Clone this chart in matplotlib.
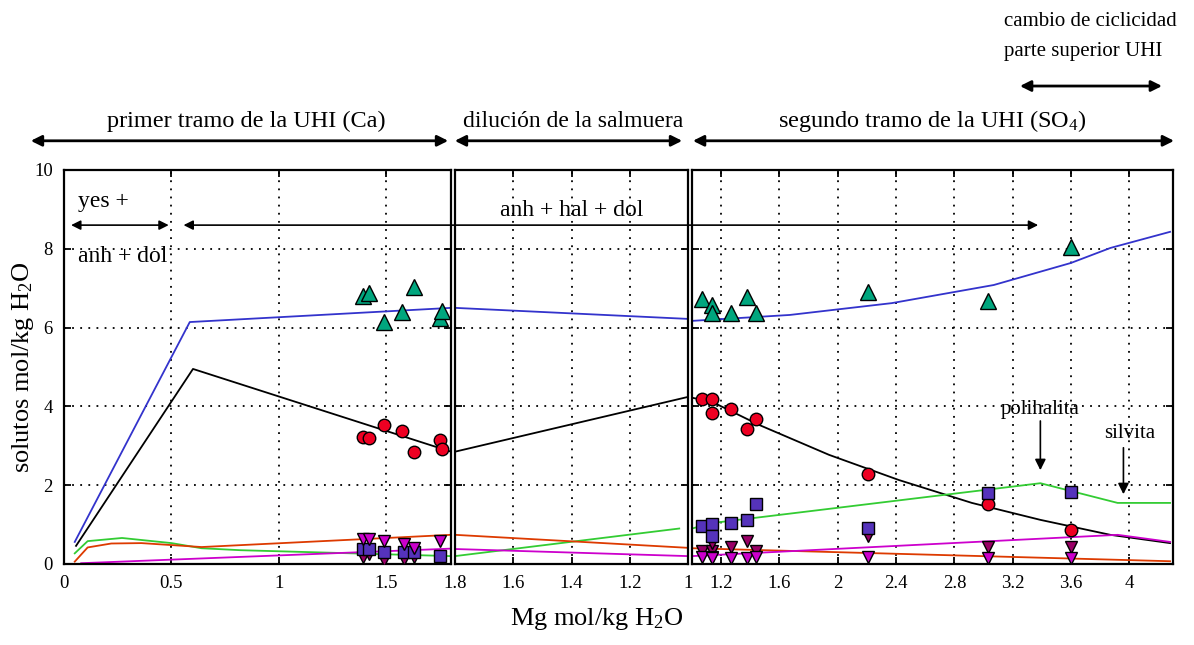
import matplotlib
matplotlib.use('Agg')
from matplotlib import pyplot as plt
from matplotlib.patches import ConnectionPatch

plt.rcParams['font.family'] = ['Liberation Serif', 'DejaVu Serif']
plt.rcParams['mathtext.default'] = 'regular'

# ---- modelled brine composition (lines) ----
# tramo 1: Mg creciente
p1_blue_x = [0.05, 0.585, 1.8]
p1_blue_y = [0.56, 6.14, 6.5]
p1_black_x = [0.056, 0.6, 1.8]
p1_black_y = [0.46, 4.95, 2.85]
p1_green_x = [0.05, 0.11, 0.27, 0.5, 0.64, 0.82, 1.8]
p1_green_y = [0.27, 0.58, 0.66, 0.53, 0.4, 0.35, 0.2]
p1_orange_x = [0.05, 0.11, 0.22, 0.36, 0.64, 1.8]
p1_orange_y = [0.06, 0.42, 0.52, 0.53, 0.43, 0.74]
p1_magenta_x = [0.08, 1.8]
p1_magenta_y = [0.02, 0.39]

# dilucion: Mg decreciente
p2_x = [1.8, 1.0]
p2_blue_y = [6.5, 6.22]
p2_black_y = [2.85, 4.24]
p2_green_x = [1.8, 1.03]
p2_green_y = [0.2, 0.9]
p2_orange_y = [0.74, 0.41]
p2_magenta_y = [0.38, 0.2]

# tramo 2
p3_blue_x = [1.0, 1.67, 2.37, 3.07, 3.6, 3.87, 4.28]
p3_blue_y = [6.17, 6.32, 6.62, 7.08, 7.64, 8.02, 8.43]
p3_black_x = [1.0, 1.14, 1.46, 1.94, 2.42, 2.92, 3.39, 3.87, 4.28]
p3_black_y = [4.22, 4.11, 3.53, 2.77, 2.13, 1.55, 1.12, 0.74, 0.53]
p3_green_x = [1.0, 1.14, 3.39, 3.92, 4.28]
p3_green_y = [0.9, 1.04, 2.05, 1.55, 1.55]
p3_orange_x = [1.0, 4.28]
p3_orange_y = [0.4, 0.07]
p3_magenta_x = [1.0, 3.92, 4.28]
p3_magenta_y = [0.2, 0.74, 0.56]

# ---- muestras (points) ----
s1_x = [1.39, 1.42, 1.49, 1.57, 1.63, 1.75, 1.76]
s1_tri = [6.8, 6.88, 6.14, 6.4, 7.03, 6.24, 6.42]
s1_circ = [3.22, 3.2, 3.53, 3.38, 2.84, 3.15, 2.92]
s1b_x = [1.39, 1.42, 1.49, 1.58, 1.63, 1.75]
s1b_sq = [0.37, 0.37, 0.30, 0.30, 0.30, 0.20]
s1b_dark = [0.17, 0.25, 0.10, 0.12, 0.17, 0.17]
s1b_mag = [0.64, 0.64, 0.59, 0.50, 0.41, 0.59]

s3_x = [1.07, 1.14, 1.14, 1.27, 1.38, 1.44, 2.21, 3.03, 3.6]
s3_tri = [6.73, 6.57, 6.37, 6.37, 6.78, 6.37, 6.9, 6.68, 8.05]
s3_circ = [4.19, 4.19, 3.84, 3.93, 3.43, 3.68, 2.28, 1.52, 0.86]
s3_sq = [0.97, 1.01, 0.71, 1.04, 1.12, 1.52, 0.92, 1.8, 1.83]
s3_dark = [0.33, 0.33, 0.53, 0.43, 0.58, 0.33, 0.71, 0.43, 0.43]
s3_mag = [0.17, 0.17, 0.15, 0.15, 0.15, 0.17, 0.17, 0.15, 0.15]

p1_ticks = [0, 0.5, 1, 1.5]
p2_ticks = [1.8, 1.6, 1.4, 1.2, 1.0]
p3_ticks = [1.2, 1.6, 2, 2.4, 2.8, 3.2, 3.6, 4]
p1_tick_labels = ['0', '0.5', '1', '1.5']
p2_tick_labels = ['1.8', '1.6', '1.4', '1.2', '1']
p3_tick_labels = ['1.2', '1.6', '2', '2.4', '2.8', '3.2', '3.6', '4']

BLUE = '#3333cc'
GREEN = '#33cc33'
ORANGE = '#dd3a00'
MAGENTA = '#cc00cc'
TEAL = '#00a67e'
RED = '#ee0022'
PURPLE = '#5533bb'
DARKMAG = '#990066'

fig = plt.figure(figsize=(11.94, 6.45), dpi=100)
bottom, height = 0.1256, 0.6109
ax1 = fig.add_axes([0.0536, bottom, 0.3241, height])
ax2 = fig.add_axes([0.3811, bottom, 0.1951, height])
ax3 = fig.add_axes([0.5796, bottom, 0.4028, height])

lkw = dict(lw=1.3, zorder=2)


def draw_points(ax, x, tri, circ, sq, dark, mag, xb=None):
	if xb is None:
		xb = x
	mk = dict(ls='none', mec='black', mew=1.0, zorder=4)
	ax.plot(x, tri, marker='^', ms=11, mfc=TEAL, **mk)
	ax.plot(x, circ, marker='o', ms=9, mfc=RED, **mk)
	ax.plot(xb, dark, marker='v', ms=9, mfc=DARKMAG, **mk)
	ax.plot(xb, sq, marker='s', ms=8, mfc=PURPLE, **mk)
	ax.plot(xb, mag, marker='v', ms=9, mfc=MAGENTA, **mk)


# panel 1
ax1.plot(p1_blue_x, p1_blue_y, color=BLUE, **lkw)
ax1.plot(p1_black_x, p1_black_y, color='black', **lkw)
ax1.plot(p1_green_x, p1_green_y, color=GREEN, **lkw)
ax1.plot(p1_orange_x, p1_orange_y, color=ORANGE, **lkw)
ax1.plot(p1_magenta_x, p1_magenta_y, color=MAGENTA, **lkw)
draw_points(ax1, s1_x, s1_tri, s1_circ, s1b_sq, s1b_dark, s1b_mag, xb=s1b_x)

# panel 2
ax2.plot(p2_x, p2_blue_y, color=BLUE, **lkw)
ax2.plot(p2_x, p2_black_y, color='black', **lkw)
ax2.plot(p2_green_x, p2_green_y, color=GREEN, **lkw)
ax2.plot(p2_x, p2_orange_y, color=ORANGE, **lkw)
ax2.plot(p2_x, p2_magenta_y, color=MAGENTA, **lkw)

# panel 3
ax3.plot(p3_blue_x, p3_blue_y, color=BLUE, **lkw)
ax3.plot(p3_black_x, p3_black_y, color='black', **lkw)
ax3.plot(p3_green_x, p3_green_y, color=GREEN, **lkw)
ax3.plot(p3_orange_x, p3_orange_y, color=ORANGE, **lkw)
ax3.plot(p3_magenta_x, p3_magenta_y, color=MAGENTA, **lkw)
draw_points(ax3, s3_x, s3_tri, s3_circ, s3_sq, s3_dark, s3_mag)

ax1.set_xlim(0, 1.8)
ax2.set_xlim(1.8, 1.0)
ax3.set_xlim(1.0, 4.3)
for ax, ticks, labels in [(ax1, p1_ticks, p1_tick_labels),
						  (ax2, p2_ticks, p2_tick_labels),
						  (ax3, p3_ticks, p3_tick_labels)]:
	ax.set_ylim(0, 10)
	ax.set_xticks(ticks)
	ax.set_xticklabels(labels)
	ax.set_yticks([0, 2, 4, 6, 8, 10])
	ax.grid(True, color='black', ls=(0, (1, 3.5)), lw=1.3)
	ax.tick_params(direction='in', top=True, right=True, length=5, width=1.3,
				   labelsize=13.5, pad=8)
	for sp in ax.spines.values():
		sp.set_linewidth(1.6)
	ax.set_axisbelow(True)
ax2.tick_params(labelleft=False)
ax3.tick_params(labelleft=False)

ax1.set_ylabel('solutos mol/kg H$_2$O', fontsize=19, labelpad=-1)
fig.text(0.5, 0.02, 'Mg mol/kg H$_2$O', fontsize=19, ha='center', va='bottom')

# paragenesis arrows inside the plot
ax1.annotate('', xy=(0.02, 8.6), xytext=(0.5, 8.6),
			 arrowprops=dict(arrowstyle='<|-|>', color='black', lw=1.2, mutation_scale=14))
ax1.text(0.065, 9.2, 'yes +', fontsize=17, va='center')
ax1.text(0.065, 7.8, 'anh + dol', fontsize=17, va='center')
con = ConnectionPatch(xyA=(0.556, 8.6), coordsA=ax1.transData,
					  xyB=(3.375, 8.6), coordsB=ax3.transData,
					  arrowstyle='<|-|>', color='black', lw=1.2, mutation_scale=14, zorder=5)
fig.add_artist(con)
ax2.text(0.5, 8.96, 'anh + hal + dol', fontsize=17, ha='center', va='center',
		 transform=ax2.get_yaxis_transform(), zorder=6)

# polihalita / silvita
ax3.annotate('', xy=(3.39, 2.31), xytext=(3.39, 3.7),
			 arrowprops=dict(arrowstyle='-|>', color='black', lw=1.2, mutation_scale=16))
ax3.text(3.39, 3.93, 'polihalita', fontsize=15, ha='center', va='center')
ax3.annotate('', xy=(3.96, 1.7), xytext=(3.96, 3.02),
			 arrowprops=dict(arrowstyle='-|>', color='black', lw=1.2, mutation_scale=16))
ax3.text(4.0, 3.32, 'silvita', fontsize=15, ha='center', va='center')

# stages above the panels
akw = dict(arrowstyle='<|-|>', color='black', lw=2.0, mutation_scale=16)
ax1.annotate('', xy=(-0.093, 1.074), xytext=(1.0, 1.074), xycoords='axes fraction',
			 arrowprops=akw, annotation_clip=False)
ax1.text(0.47, 1.124, 'primer tramo de la UHI (Ca)', transform=ax1.transAxes,
		 fontsize=17.5, ha='center', va='center')
ax2.annotate('', xy=(-0.013, 1.074), xytext=(0.987, 1.074), xycoords='axes fraction',
			 arrowprops=akw, annotation_clip=False)
ax2.text(0.506, 1.124, 'dilución de la salmuera', transform=ax2.transAxes,
		 fontsize=17, ha='center', va='center')
ax3.annotate('', xy=(-0.004, 1.074), xytext=(1.008, 1.074), xycoords='axes fraction',
			 arrowprops=akw, annotation_clip=False)
ax3.text(0.499, 1.124, 'segundo tramo de la UHI (SO$_4$)', transform=ax3.transAxes,
		 fontsize=17.5, ha='center', va='center')
ax3.annotate('', xy=(0.676, 1.213), xytext=(0.983, 1.213), xycoords='axes fraction',
			 arrowprops=akw, annotation_clip=False)
ax3.text(0.649, 1.376, 'cambio de ciclicidad', transform=ax3.transAxes,
		 fontsize=15, ha='left', va='center')
ax3.text(0.649, 1.30, 'parte superior UHI', transform=ax3.transAxes,
		 fontsize=15, ha='left', va='center')

fig.savefig('out.png', dpi=100)
